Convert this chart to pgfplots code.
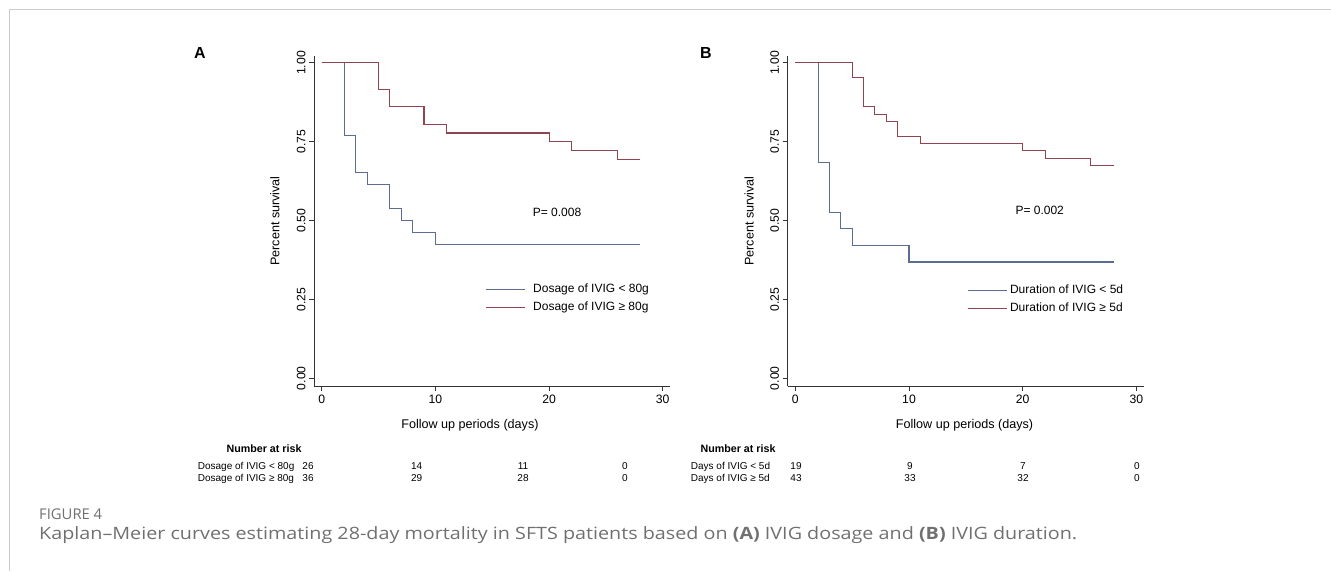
\documentclass[border=0pt]{standalone}
\usepackage{fontspec}
\setmainfont{Liberation Sans}
\newfontfamily\capfont{Open Sans}
\usepackage{pgfplots}
\pgfplotsset{compat=1.18}
\usepackage{graphicx}
\definecolor{kmblue}{HTML}{5B6E92}
\definecolor{kmred}{HTML}{8E4550}
\definecolor{framegray}{HTML}{CCCCCC}
\definecolor{capgray}{HTML}{707070}
\definecolor{axgray}{HTML}{333333}

\pgfplotsset{
 kmaxis/.style={
  scale only axis, width=356pt, height=330pt,
  xmin=-0.68, xmax=30.64, ymin=-0.025, ymax=1.022,
  axis x line=bottom, axis y line=left,
  axis line style={-, draw=axgray, line width=0.9pt},
  xtick={0,10,20,30}, xticklabels={0,10,20,30},
  ytick={0,0.25,0.5,0.75,1}, yticklabels={0.00,0.25,0.50,0.75,1.00},
  tick align=outside, major tick length=5pt,
  tick style={draw=axgray, line width=0.9pt},
  ticklabel style={font=\fontsize{12.2}{14}\selectfont},
  yticklabel style={rotate=90, anchor=south},
  label style={font=\fontsize{12.6}{14}\selectfont},
  ylabel={Percent survival},
  xlabel={Follow up periods (days)},
  legend cell align=left,
  legend image code/.code={\draw[#1] (0pt,0pt) -- (39pt,0pt);},
  legend style={draw=none, fill=none, inner sep=0pt, outer sep=0pt,
     font=\fontsize{12}{14}\selectfont, row sep=6pt,
     nodes={inner sep=0pt, text height=9pt, text depth=3pt}},
  clip=false,
 }
}

\begin{document}
\begin{tikzpicture}
\path[use as bounding box] (0,0) rectangle (1331pt,-571pt);
\draw[framegray, line width=1.5pt] (9.5pt,-571pt) -- (9.5pt,-9.5pt) -- (1331pt,-9.5pt);

% Panel A
\node[font=\bfseries\fontsize{16}{18}\selectfont] at (200pt,-53pt) {A};
\begin{axis}[kmaxis, at={(314pt,-386pt)}, anchor=south west,
  xlabel style={at={(axis description cs:0.438,-0.118)}, anchor=center},
  ylabel style={at={(axis description cs:-0.1096,0.5)}, anchor=center},
  legend style={at={(axis cs:14.37,0.3006)}, anchor=north west, column sep=8pt}]
\addplot[const plot, kmblue, line width=1.1pt] coordinates {
 (0,1) (2,0.7692) (3,0.6538) (4,0.6154) (6,0.5385) (7,0.5) (8,0.4615) (10,0.4231) (28,0.4231)};
\addlegendentry{Dosage of IVIG < 80g}
\addplot[const plot, kmred, line width=1.1pt] coordinates {
 (0,1) (5,0.9167) (6,0.8611) (9,0.8056) (11,0.7778) (20,0.75) (22,0.7222) (26,0.6944) (28,0.6944)};
\addlegendentry{Dosage of IVIG ≥ 80g}
\node[anchor=west, font=\fontsize{12}{14}\selectfont] at (axis cs:18.26,0.525) {P= 0.008};
\end{axis}

% Panel B
\node[font=\bfseries\fontsize{16}{18}\selectfont] at (706pt,-53pt) {B};
\begin{axis}[kmaxis, at={(787.6pt,-386pt)}, anchor=south west,
  xlabel style={at={(axis description cs:0.497,-0.118)}, anchor=center},
  ylabel style={at={(axis description cs:-0.108,0.5)}, anchor=center},
  legend style={at={(axis cs:15.10,0.297)}, anchor=north west, column sep=3pt}]
\addplot[const plot, kmblue, line width=1.1pt] coordinates {
 (0,1) (2,0.6842) (3,0.5263) (4,0.4737) (5,0.4211) (10,0.3684) (28,0.3684)};
\addlegendentry{Duration of IVIG < 5d}
\addplot[const plot, kmred, line width=1.1pt] coordinates {
 (0,1) (5,0.9535) (6,0.8605) (7,0.8372) (8,0.8140) (9,0.7674) (11,0.7442) (20,0.7209) (22,0.6977) (26,0.6744) (28,0.6744)};
\addlegendentry{Duration of IVIG ≥ 5d}
\node[anchor=west, font=\fontsize{12}{14}\selectfont] at (axis cs:19.06,0.533) {P= 0.002};
\end{axis}

% Number at risk, panel A
\begin{scope}[every node/.style={font=\fontsize{10}{12}\selectfont, inner sep=0pt}]
\node[anchor=base, font=\bfseries\fontsize{10.7}{12}\selectfont] at (264pt,-452.3pt) {Number at risk};
\node[anchor=base west] at (197.7pt,-469.3pt) {Dosage of IVIG < 80g};
\node[anchor=base west] at (197.7pt,-481.2pt) {Dosage of IVIG ≥ 80g};
\node[anchor=base] at (308pt,-469.3pt) {26};
\node[anchor=base] at (416.7pt,-469.3pt) {14};
\node[anchor=base] at (523pt,-469.3pt) {11};
\node[anchor=base] at (625pt,-469.3pt) {0};
\node[anchor=base] at (308pt,-481.2pt) {36};
\node[anchor=base] at (416.7pt,-481.2pt) {29};
\node[anchor=base] at (523pt,-481.2pt) {28};
\node[anchor=base] at (625pt,-481.2pt) {0};
% panel B
\node[anchor=base, font=\bfseries\fontsize{10.7}{12}\selectfont] at (738pt,-452.3pt) {Number at risk};
\node[anchor=base west] at (690.7pt,-469.3pt) {Days of IVIG < 5d};
\node[anchor=base west] at (690.7pt,-481.2pt) {Days of IVIG ≥ 5d};
\node[anchor=base] at (796pt,-469.3pt) {19};
\node[anchor=base] at (910pt,-469.3pt) {9};
\node[anchor=base] at (1023pt,-469.3pt) {7};
\node[anchor=base] at (1137pt,-469.3pt) {0};
\node[anchor=base] at (796pt,-481.2pt) {43};
\node[anchor=base] at (910pt,-481.2pt) {33};
\node[anchor=base] at (1023pt,-481.2pt) {32};
\node[anchor=base] at (1137pt,-481.2pt) {0};
\end{scope}

% Caption
\node[anchor=west, inner sep=0pt, text=capgray] at (39pt,-514pt) {\resizebox{63pt}{!}{\capfont FIGURE 4}};
\node[anchor=base west, inner sep=0pt, text=capgray] at (39pt,-539pt)
 {\resizebox{1038pt}{\height}{\capfont\fontsize{17}{20}\selectfont Kaplan–Meier curves estimating 28-day mortality in SFTS patients based on \textbf{(A)} IVIG dosage and \textbf{(B)} IVIG duration.}};
\end{tikzpicture}
\end{document}
